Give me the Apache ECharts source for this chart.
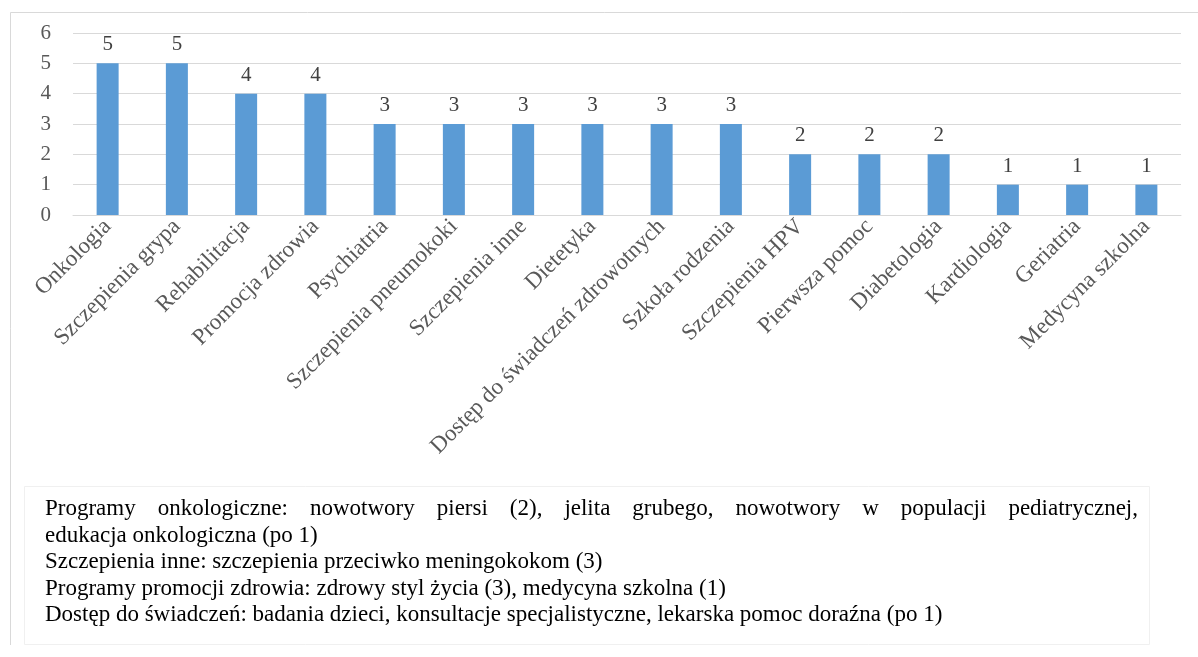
<!DOCTYPE html>
<html><head><meta charset="utf-8">
<script src="https://cdn.jsdelivr.net/npm/echarts@6/dist/echarts.min.js"></script>
<style>html,body{margin:0;padding:0;background:#fff}#c{width:1198px;height:657px}</style>
</head><body><div id="c"></div>
<script>
const categories = ["Onkologia","Szczepienia grypa","Rehabilitacja","Promocja zdrowia","Psychiatria","Szczepienia pneumokoki","Szczepienia inne","Dietetyka","Dostęp do świadczeń zdrowotnych","Szkoła rodzenia","Szczepienia HPV","Pierwsza pomoc","Diabetologia","Kardiologia","Geriatria","Medycyna szkolna"];
const values = [5,5,4,4,3,3,3,3,3,3,2,2,2,1,1,1];
const yTicks = [0,1,2,3,4,5,6];
const noteLines = [
  "Programy onkologiczne: nowotwory piersi (2), jelita grubego, nowotwory w populacji pediatrycznej,",
  "edukacja onkologiczna (po 1)",
  "Szczepienia inne: szczepienia przeciwko meningokokom (3)",
  "Programy promocji zdrowia: zdrowy styl życia (3), medycyna szkolna (1)",
  "Dostęp do świadczeń: badania dzieci, konsultacje specjalistyczne, lekarska pomoc doraźna (po 1)"
];

const FONT = 'Liberation Serif';
const chart = echarts.init(document.getElementById('c'));

const ctx = document.createElement('canvas').getContext('2d');
const noteSize = 23;
const noteFont = noteSize + 'px "Liberation Serif", serif';
ctx.font = noteFont;
const noteLeft = 45, noteRight = 1138, noteTop = 509, lineH = 26.5;
const noteEls = [];
noteLines.forEach((line, i) => {
  const y = noteTop + i * lineH;
  if (i === 0) {
    const words = line.split(' ');
    const widths = words.map(w => ctx.measureText(w).width);
    const total = widths.reduce((a,b)=>a+b,0);
    const gap = (noteRight - noteLeft - total) / (words.length - 1);
    let x = noteLeft;
    words.forEach((w, k) => {
      noteEls.push({type:'text', x:x, y:y, style:{text:w, font: noteFont, fill:'#000', verticalAlign:'middle'}});
      x += widths[k] + gap;
    });
  } else {
    noteEls.push({type:'text', x:noteLeft, y:y, style:{text:line, font: noteFont, fill:'#000', verticalAlign:'middle'}});
  }
});

chart.setOption({
  animation: false,
  backgroundColor: '#fff',
  grid: {left: 73, right: 17, top: 33, bottom: 442, containLabel: false},
  xAxis: {
    type: 'category', data: categories,
    axisLine: {show: true, lineStyle: {color: '#d9d9d9', width: 1}},
    axisTick: {show: false},
    axisLabel: {rotate: 45, interval: 0, fontFamily: FONT, fontSize: 23, color: '#595959', margin: 8}
  },
  yAxis: {
    type: 'value', min: yTicks[0], max: yTicks[yTicks.length-1], interval: 1,
    axisLine: {show: false}, axisTick: {show: false},
    splitLine: {lineStyle: {color: '#d9d9d9', width: 1}},
    axisLabel: {fontFamily: FONT, fontSize: 21, color: '#595959', margin: 22}
  },
  series: [{
    type: 'bar', data: values, barWidth: 22,
    itemStyle: {color: '#5b9bd5'},
    label: {show: true, position: 'top', distance: 8, fontFamily: FONT, fontSize: 21, color: '#404040'}
  }],
  graphic: [
    {type:'line', shape:{x1:10.5,y1:12.5,x2:1198,y2:12.5}, style:{stroke:'#d9d9d9', lineWidth:1}},
    {type:'line', shape:{x1:10.5,y1:12.5,x2:10.5,y2:645}, style:{stroke:'#d9d9d9', lineWidth:1}},
    {type:'rect', shape:{x:24.5,y:486.5,width:1125,height:158}, style:{fill:'#fff', stroke:'#f0f0f0', lineWidth:1}},
    ...noteEls
  ]
});
</script></body></html>
